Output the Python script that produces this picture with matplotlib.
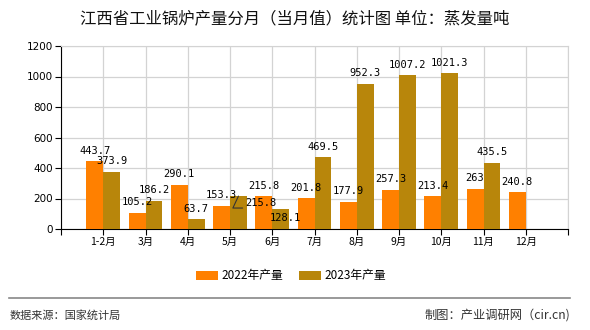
import numpy as np
import matplotlib.pyplot as plt
from matplotlib.lines import Line2D

plt.rcParams['font.family'] = ['Noto Sans CJK SC', 'DejaVu Sans']

months = ['1-2月', '3月', '4月', '5月', '6月', '7月', '8月', '9月', '10月', '11月', '12月']
output_2022 = [443.7, 105.2, 290.1, 153.3, 215.8, 201.8, 177.9, 257.3, 213.4, 263, 240.8]
output_2023 = [373.9, 186.2, 63.7, 215.8, 128.1, 469.5, 952.3, 1007.2, 1021.3, 435.5]

c2022 = '#FF8000'
c2023 = '#B8860B'
w = 0.4

fig = plt.figure(figsize=(5.9, 3.3), dpi=100)
ax = fig.add_axes([61 / 590, 1 - 229 / 330, 507 / 590, 183 / 330])

x22 = np.arange(len(output_2022))
x23 = np.arange(len(output_2023))
b1 = ax.bar(x22 - w / 2, output_2022, w, color=c2022, label='2022年产量', zorder=3)
b2 = ax.bar(x23 + w / 2, output_2023, w, color=c2023, label='2023年产量', zorder=3)

lab_font = dict(family='DejaVu Sans Mono', fontsize=7.5, ha='center', va='bottom', zorder=5)
for xi, v in zip(x22, output_2022):
    ax.annotate(f'{v:g}', (xi - w / 2, v), xytext=(0, 4), textcoords='offset points', **lab_font)
for xi, v in zip(x23, output_2023):
    if months[xi] == '5月':
        # this label sits off the bar with a leader line underneath
        ax.annotate(f'{v:g}', (xi + w / 2, v), xytext=(5, -5), textcoords='offset points',
                    arrowprops=dict(arrowstyle='-', color='#333333', lw=0.8, shrinkA=0, shrinkB=0,
                                    relpos=(1.0, 0.0),
                                    connectionstyle='angle,angleA=0,angleB=65,rad=0'),
                    family='DejaVu Sans Mono', fontsize=7.5, ha='left', va='center', zorder=5)
        continue
    if months[xi] == '6月':
        # pushed down to make room for the label above
        ax.annotate(f'{v:g}', (xi + w / 2, v), xytext=(3, -6), textcoords='offset points',
                    family='DejaVu Sans Mono', fontsize=7.5, ha='center', va='center', zorder=5)
        continue
    ax.annotate(f'{v:g}', (xi + w / 2, v), xytext=(0, 4), textcoords='offset points', **lab_font)

ax.set_xlim(-1, len(months))
ax.set_ylim(0, 1200)
ax.set_yticks(range(0, 1201, 200))
ax.set_xticks(range(-1, len(months) + 1))
ax.set_xticklabels([''] + months + [''])
ax.tick_params(axis='both', labelsize=7.5, length=4, color='black', pad=2)
for t in ax.get_yticklabels():
    t.set_family('DejaVu Sans')
ax.grid(True, color='#d3d3d3', lw=0.9, zorder=0)
ax.spines['top'].set_color('#d3d3d3')
ax.spines['right'].set_color('#d3d3d3')
ax.spines['left'].set_color('black')
ax.spines['bottom'].set_color('black')

fig.text(0.5, 1 - 19 / 330, '江西省工业锅炉产量分月（当月值）统计图 单位：蒸发量吨',
         ha='center', va='center', fontsize=11.8, color='#111111')

fig.legend(handles=[b1, b2], loc='center', bbox_to_anchor=(291 / 590, 1 - 276 / 330), ncol=2,
           frameon=False, fontsize=8.5, handlelength=1.9, handleheight=0.8,
           handletextpad=0.3, columnspacing=1.3)

fig.add_artist(Line2D([9 / 590, 570 / 590], [1 - 298 / 330] * 2, color='#888888', lw=1.2))
fig.text(10 / 590, 1 - 315 / 330, '数据来源：国家统计局', ha='left', va='center', fontsize=8, color='#333333')
fig.text(570 / 590, 1 - 315 / 330, '制图：产业调研网（cir.cn)', ha='right', va='center',
         fontsize=8.8, color='#333333')

fig.savefig('out.png', dpi=100)
